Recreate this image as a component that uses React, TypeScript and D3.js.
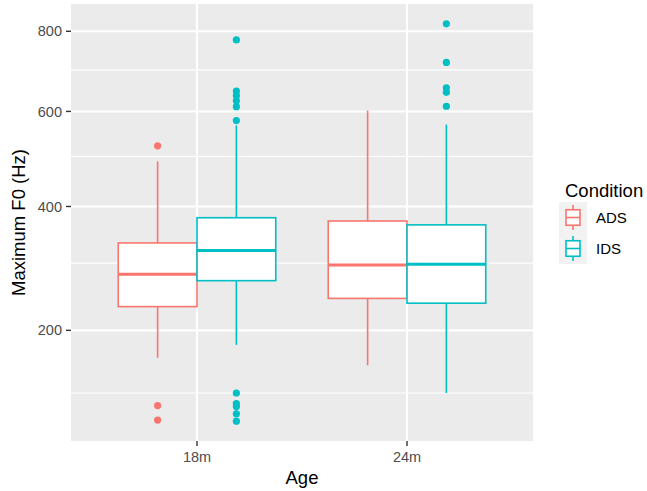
import React from "react";
import * as d3 from "d3";

// age groups and conditions
const ages = ["18m", "24m"];
const conditions = ["ADS", "IDS"];
const condColors = ["#F8766D", "#00BFC4"];

// five-number summaries: [lowWhisker, q1, median, q3, highWhisker]
const ads18 = [165, 233, 282, 334, 490];
const ids18 = [181, 272, 321, 379, 568];
const ads24 = [156, 245, 297, 373, 602];
const ids24 = [125, 238, 298, 366, 570];

// outliers
const ads18Out = [523, 112, 98];
const ids18Out = [777, 648, 637, 625, 611, 579, 125, 114, 111, 104, 97];
const ads24Out: number[] = [];
const ids24Out = [820, 719, 656, 645, 612];

const yTicks = [200, 400, 600, 800];
const yMinor = [125, 300, 500, 700];

const boxes = [
  { age: "18m", cond: 0, stats: ads18, out: ads18Out },
  { age: "18m", cond: 1, stats: ids18, out: ids18Out },
  { age: "24m", cond: 0, stats: ads24, out: ads24Out },
  { age: "24m", cond: 1, stats: ids24, out: ids24Out },
];

const W = 647;
const H = 491;
const panel = { left: 71, right: 533, top: 4, bottom: 441 };
const font = "'Liberation Sans', Arial, Helvetica, sans-serif";

export default function App() {
  // sqrt y scale with ggplot-like 5% expansion
  const lo = d3.min(boxes.flatMap((b) => [...b.stats, ...b.out]))!;
  const hi = d3.max(boxes.flatMap((b) => [...b.stats, ...b.out]))!;
  const sLo = Math.sqrt(lo);
  const sHi = Math.sqrt(hi);
  const pad = (sHi - sLo) * 0.05;
  const y = d3
    .scaleSqrt()
    .domain([(sLo - pad) ** 2, (sHi + pad) ** 2])
    .range([panel.bottom, panel.top]);

  // discrete x with 0.6 expansion on each side
  const x = d3
    .scaleLinear()
    .domain([0.4, ages.length + 0.6])
    .range([panel.left, panel.right]);
  const xPos = (a: string) => x(ages.indexOf(a) + 1);
  const unit = x(1) - x(0);
  const boxW = unit * 0.75 / 2;

  return (
    <svg
      width={W}
      height={H}
      style={{ position: "absolute", left: 0, top: 0, background: "#fff" }}
      fontFamily={font}
    >
      <rect
        x={panel.left}
        y={panel.top}
        width={panel.right - panel.left}
        height={panel.bottom - panel.top}
        fill="#EBEBEB"
      />
      {yMinor.map((t) => (
        <line key={"mn" + t} x1={panel.left} x2={panel.right} y1={y(t)} y2={y(t)} stroke="#fff" strokeWidth={1.1} />
      ))}
      {yTicks.map((t) => (
        <line key={"mj" + t} x1={panel.left} x2={panel.right} y1={y(t)} y2={y(t)} stroke="#fff" strokeWidth={2.1} />
      ))}
      {ages.map((a) => (
        <line key={"vx" + a} x1={xPos(a)} x2={xPos(a)} y1={panel.top} y2={panel.bottom} stroke="#fff" strokeWidth={2.1} />
      ))}

      {boxes.map((b, i) => {
        const cx = xPos(b.age) + (b.cond === 0 ? -boxW / 2 : boxW / 2);
        const col = condColors[b.cond];
        const [wl, q1, med, q3, wh] = b.stats;
        return (
          <g key={i}>
            <line x1={cx} x2={cx} y1={y(q3)} y2={y(wh)} stroke={col} strokeWidth={1.6} />
            <line x1={cx} x2={cx} y1={y(q1)} y2={y(wl)} stroke={col} strokeWidth={1.6} />
            <rect
              x={cx - boxW / 2}
              y={y(q3)}
              width={boxW}
              height={y(q1) - y(q3)}
              fill="#fff"
              stroke={col}
              strokeWidth={1.6}
            />
            <line x1={cx - boxW / 2} x2={cx + boxW / 2} y1={y(med)} y2={y(med)} stroke={col} strokeWidth={3} />
            {b.out.map((o, j) => (
              <circle key={j} cx={cx} cy={y(o)} r={3.6} fill={col} />
            ))}
          </g>
        );
      })}

      {/* y axis */}
      {yTicks.map((t) => (
        <g key={"yt" + t}>
          <line x1={panel.left - 5} x2={panel.left} y1={y(t)} y2={y(t)} stroke="#333" strokeWidth={1.4} />
          <text x={panel.left - 9} y={y(t)} dy="0.35em" textAnchor="end" fontSize={14.5} fill="#4D4D4D">
            {t}
          </text>
        </g>
      ))}
      {/* x axis */}
      {ages.map((a) => (
        <g key={"xt" + a}>
          <line x1={xPos(a)} x2={xPos(a)} y1={panel.bottom} y2={panel.bottom + 5} stroke="#333" strokeWidth={1.4} />
          <text x={xPos(a)} y={panel.bottom + 21} textAnchor="middle" fontSize={14.5} fill="#4D4D4D">
            {a}
          </text>
        </g>
      ))}
      <text x={(panel.left + panel.right) / 2} y={484} textAnchor="middle" fontSize={18.5} fill="#000">
        Age
      </text>
      <text
        transform={`translate(25,${(panel.top + panel.bottom) / 2}) rotate(-90)`}
        textAnchor="middle"
        fontSize={18.5}
        fill="#000"
      >
        Maximum F0 (Hz)
      </text>

      {/* legend */}
      <text x={565} y={197} fontSize={18.5} fill="#000">
        Condition
      </text>
      {conditions.map((c, i) => {
        const kx = 559;
        const ky = 202 + i * 31;
        const kw = 28;
        const kh = 31;
        const col = condColors[i];
        const mx = kx + kw / 2;
        return (
          <g key={c}>
            <rect x={kx} y={ky} width={kw} height={kh} fill="#F2F2F2" />
            <line x1={mx} x2={mx} y1={ky + kh * 0.1} y2={ky + kh * 0.25} stroke={col} strokeWidth={1.6} />
            <line x1={mx} x2={mx} y1={ky + kh * 0.75} y2={ky + kh * 0.9} stroke={col} strokeWidth={1.6} />
            <rect
              x={kx + kw * 0.25}
              y={ky + kh * 0.25}
              width={kw * 0.5}
              height={kh * 0.5}
              fill="#fff"
              stroke={col}
              strokeWidth={1.6}
            />
            <line x1={kx + kw * 0.25} x2={kx + kw * 0.75} y1={ky + kh / 2} y2={ky + kh / 2} stroke={col} strokeWidth={1.6} />
            <text x={596} y={ky + kh / 2} dy="0.36em" fontSize={15} fill="#000">
              {c}
            </text>
          </g>
        );
      })}
    </svg>
  );
}
